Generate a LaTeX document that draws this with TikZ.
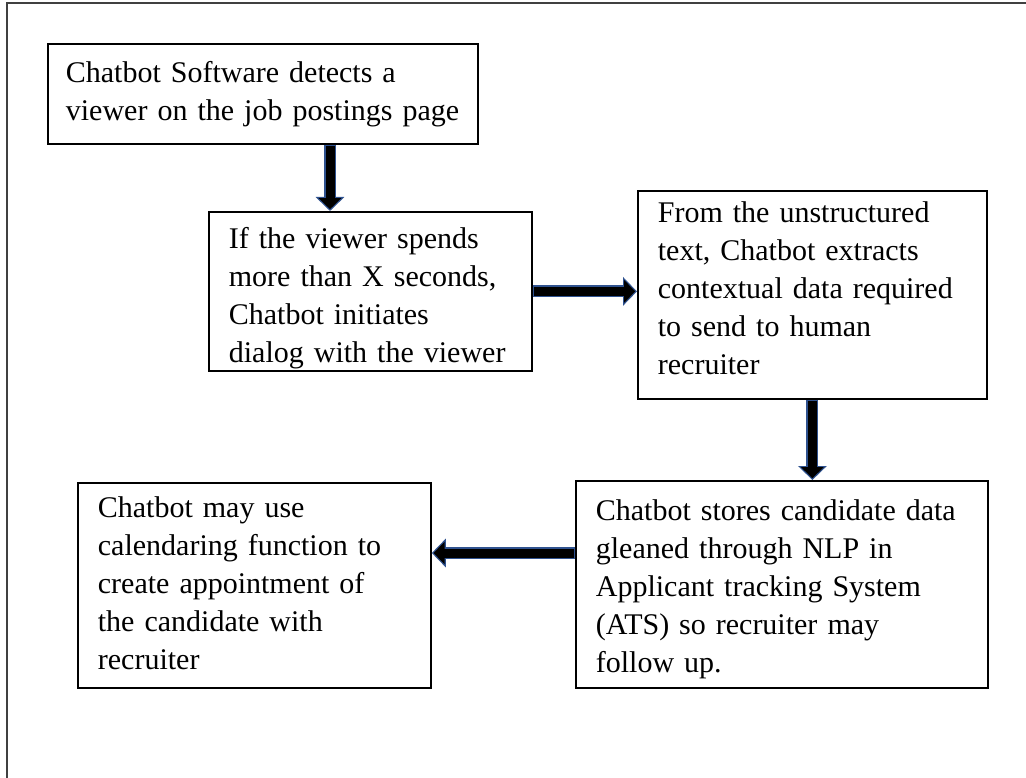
\documentclass[tikz,border=0pt]{standalone}
\usepackage{fontspec}
\setmainfont{Liberation Serif}
\usetikzlibrary{arrows.meta}
\definecolor{arrowblue}{HTML}{2F528F}
\definecolor{framegray}{HTML}{404040}
\tikzset{
  flowbox/.style={draw, line width=1.8pt, anchor=north west, align=left, inner xsep=20pt, inner ysep=0pt, font=\fontsize{30}{38}\selectfont},
  blockarrow/.style={draw=arrowblue, line width=12pt, -{Triangle[length=14pt,width=28pt]},
    postaction={draw=black, line width=9pt, shorten <=1.5pt, shorten >=1.8pt, -{Triangle[length=11pt,width=22pt]}}}
}
\begin{document}
\begin{tikzpicture}[x=1pt, y=-1pt]
  \useasboundingbox (0,0) rectangle (1026,778);
  \draw[framegray, line width=1.2pt] (7,778) -- (7,3) -- (1026,3);
  % boxes
  \node[flowbox, inner xsep=18pt, text width=394pt, text height=39pt, text depth=61pt] (b1) at (47,43) {Chatbot Software detects a\\viewer on the job postings page};
  \node[flowbox, text width=283pt, text height=37pt, text depth=122pt] (b2) at (208,211) {If the viewer spends\\more than X seconds,\\Chatbot initiates\\dialog with the viewer};
  \node[flowbox, text width=309pt, text height=32pt, text depth=176pt] (b3) at (637,190) {From the unstructured\\text, Chatbot extracts\\contextual data required\\to send to human\\recruiter};
  \node[flowbox, text width=372pt, text height=40pt, text depth=167pt] (b4) at (575,480) {Chatbot stores candidate data\\gleaned through NLP in\\Applicant tracking System\\(ATS) so recruiter may\\follow up.};
  \node[flowbox, text width=313pt, text height=35pt, text depth=170pt] (b5) at (77,482) {Chatbot may use\\calendaring function to\\create appointment of\\the candidate with\\recruiter};
  % arrows
  \coordinate (a1x) at (330,0);
  \coordinate (a4y) at (0,553);
  \draw[blockarrow] (b1.south -| a1x) -- (b2.north -| a1x);
  \draw[blockarrow] (b2.east) -- (b2.east -| b3.west);
  \draw[blockarrow] (b3.south) -- (b3.south |- b4.north);
  \draw[blockarrow] (b4.west |- a4y) -- (b5.east |- a4y);
\end{tikzpicture}
\end{document}
